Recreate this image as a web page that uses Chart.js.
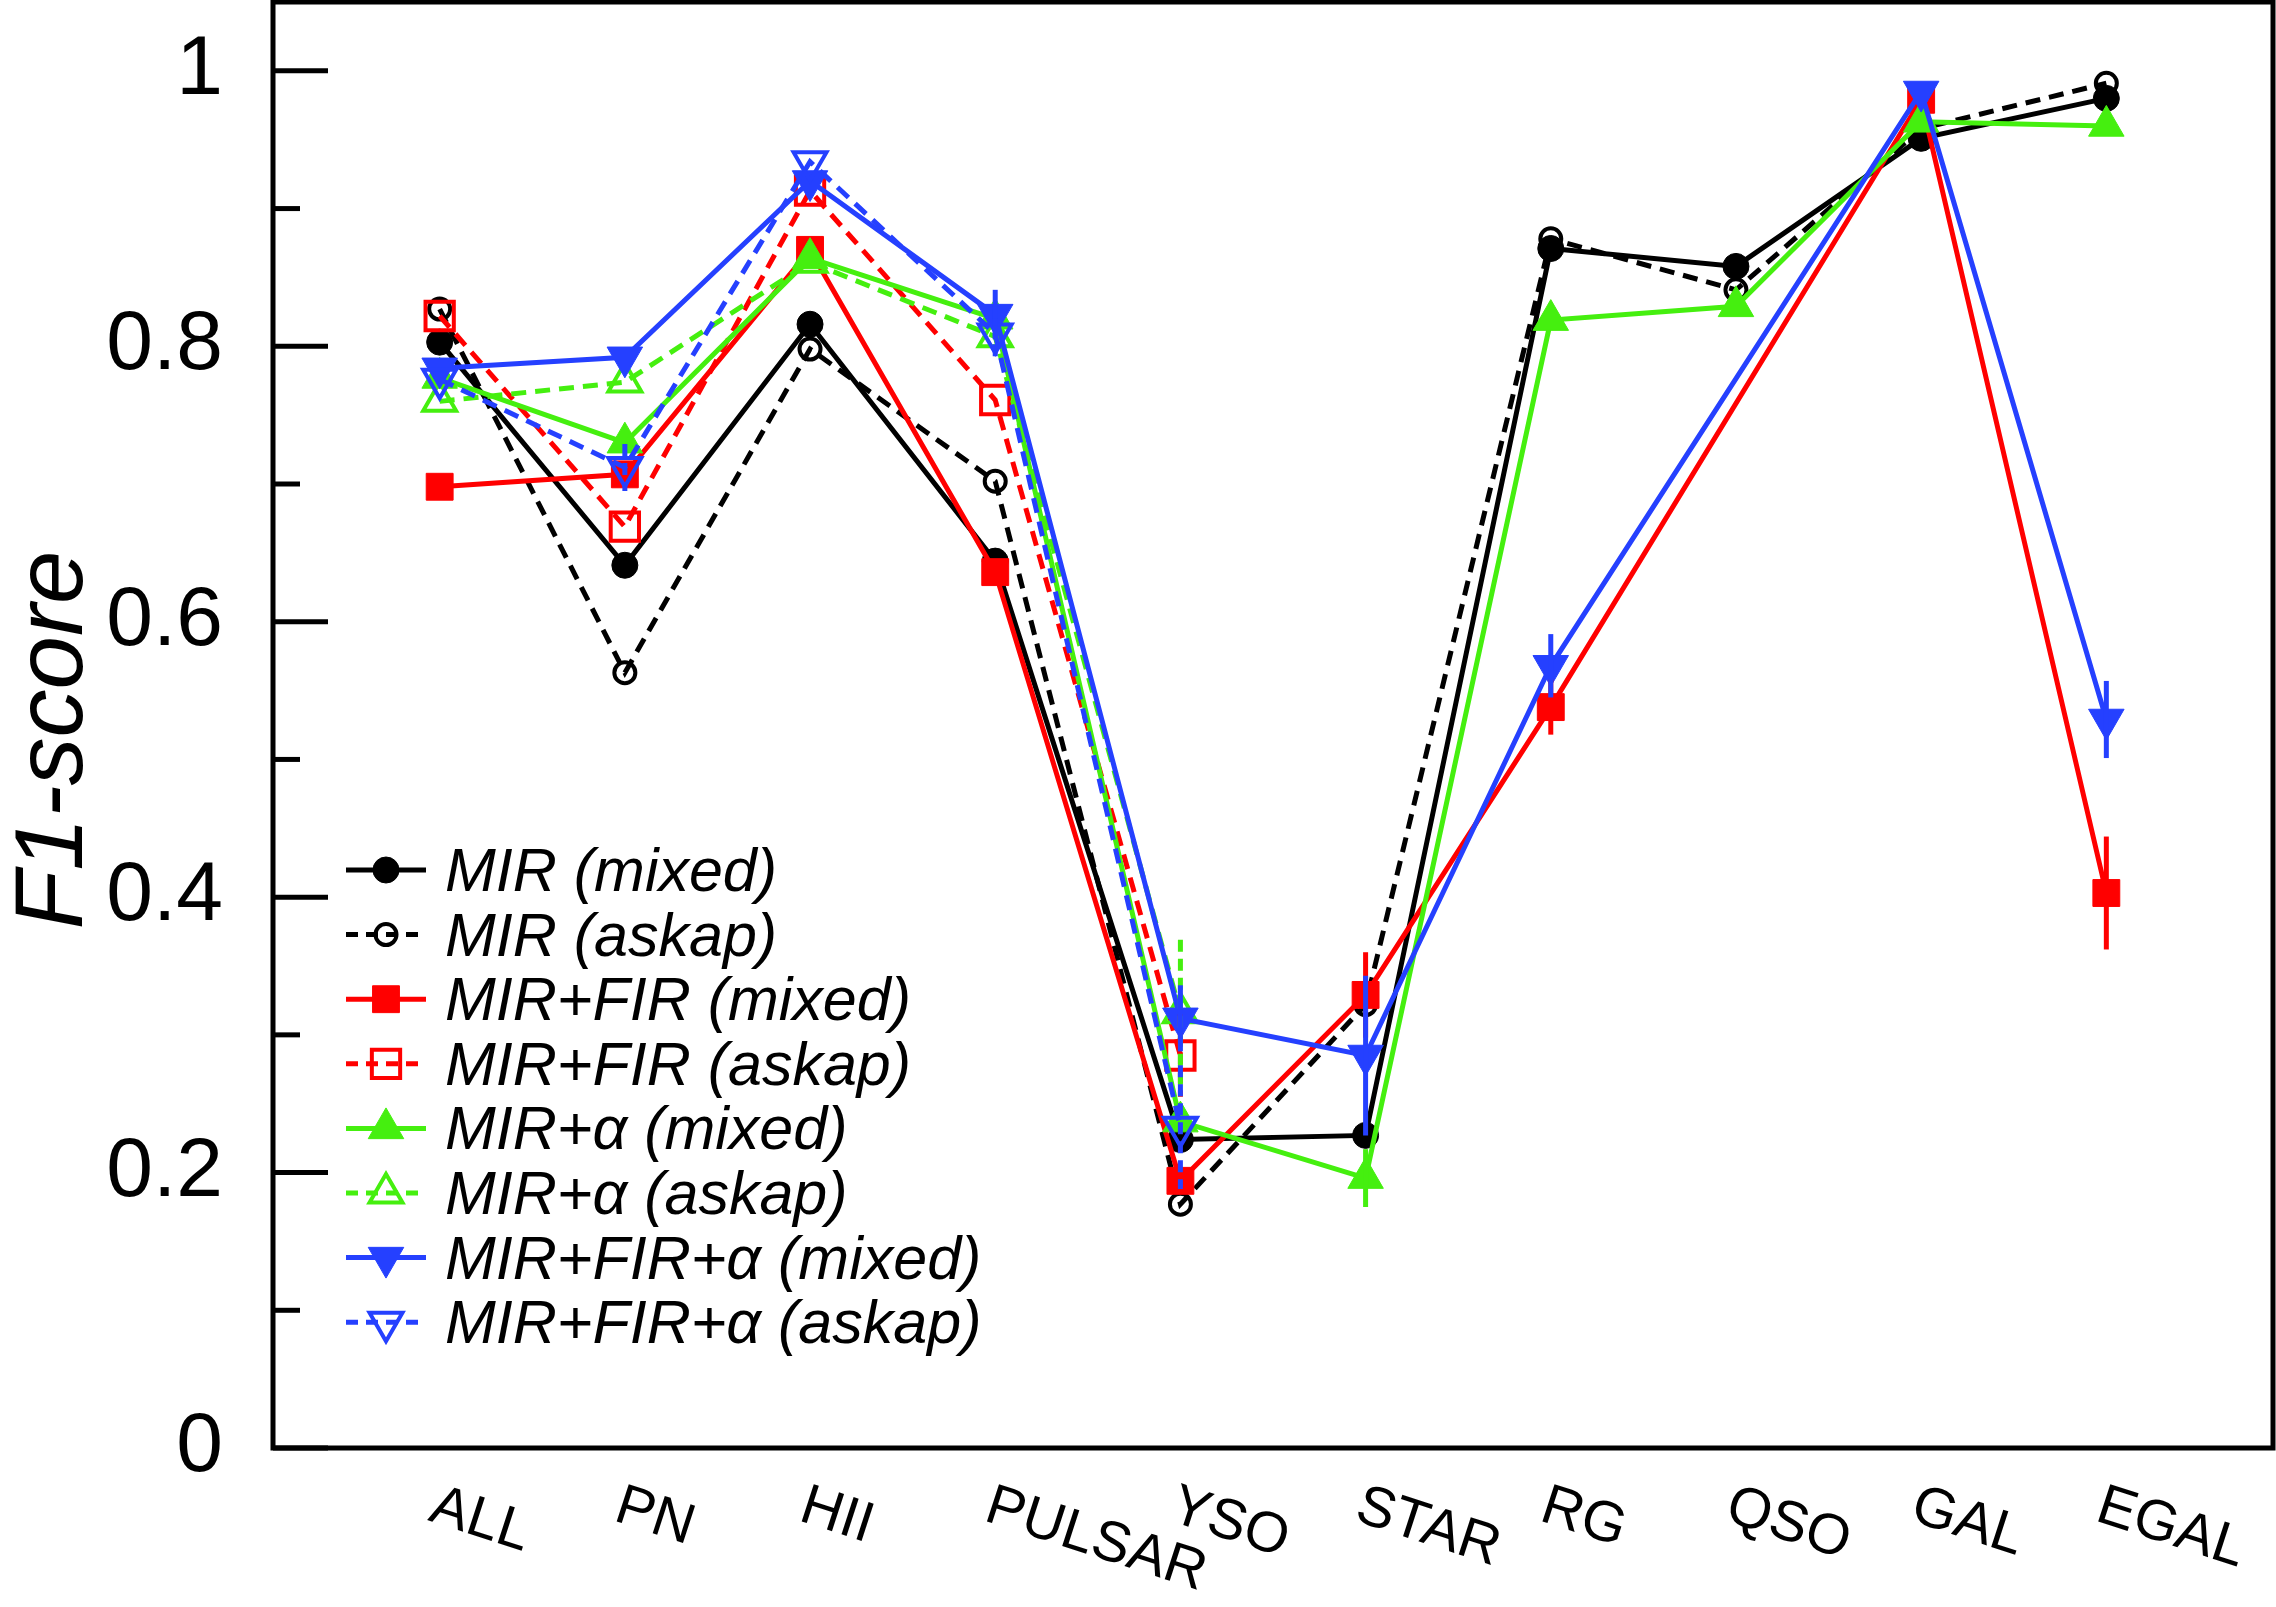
<!DOCTYPE html>
<html>
<head>
<meta charset="utf-8">
<title>F1-score</title>
<script src="https://cdn.jsdelivr.net/npm/chart.js@4.4.1/dist/chart.umd.min.js"></script>
<style>
  html, body { margin: 0; padding: 0; background: #fff; }
  #wrap { width: 2276px; height: 1607px; position: relative; }
</style>
</head>
<body>
<div id="wrap"><canvas id="f1Chart"></canvas></div>
<script>
// categories on the x axis
const categories = ['ALL', 'PN', 'HII', 'PULSAR', 'YSO', 'STAR', 'RG', 'QSO', 'GAL', 'EGAL'];

// F1 scores (null = no point)
const mirMixed      = [0.803, 0.641, 0.816, 0.644, 0.224, 0.227, 0.871, 0.858, 0.951, 0.980];
const mirAskap      = [0.827, 0.563, 0.798, 0.702, 0.177, 0.322, 0.878, 0.841, 0.958, 0.991];
const firMixed      = [0.698, 0.707, 0.870, 0.636, 0.194, 0.329, 0.538, null, 0.979, 0.403];
const firAskap      = [0.822, 0.669, 0.913, 0.761, 0.285];
const alphaMixed    = [0.777, 0.730, 0.864, 0.820, 0.237, 0.196, 0.819, 0.829, 0.963, 0.960];
const alphaAskap    = [0.760, 0.774, 0.861, 0.807, 0.316];
const firAlphaMixed = [0.784, 0.792, 0.920, 0.823, 0.312, 0.285, 0.568, null, 0.985, 0.529];
const firAlphaAskap = [0.776, 0.712, 0.934, 0.809, 0.233];

// error bar half-lengths
const mirMixedErr      = [0, 0, 0, 0, 0, 0, 0, 0, 0, 0];
const mirAskapErr      = [0, 0, 0, 0, 0, 0, 0, 0, 0, 0];
const firMixedErr      = [0, 0, 0, 0, 0, 0.031, 0.02, 0, 0, 0.041];
const firAskapErr      = [0, 0, 0, 0, 0.03];
const alphaMixedErr    = [0, 0, 0, 0, 0, 0.021, 0, 0, 0, 0];
const alphaAskapErr    = [0, 0, 0, 0, 0.053];
const firAlphaMixedErr = [0, 0, 0, 0.018, 0.024, 0.058, 0.023, 0, 0, 0.028];
const firAlphaAskapErr = [0, 0.017, 0, 0.02, 0.045];

// y axis ticks
const yMajorTicks = [0, 0.2, 0.4, 0.6, 0.8, 1];
const yTickLabels = ['0', '0.2', '0.4', '0.6', '0.8', '1'];
const yMinorTicks = [0.1, 0.3, 0.5, 0.7, 0.9];

const BLACK = '#000000';
const RED = '#ff0000';
const GREEN = '#45ef0f';
const BLUE = '#2540ff';
const DASH = [15, 9];
const FONT = '"Liberation Sans", Arial, Helvetica, sans-serif';

const seriesDefs = [
    { label: 'MIR (mixed)',          data: mirMixed,      err: mirMixedErr,      color: BLACK, shape: 'circle',   filled: true,  dashed: false },
    { label: 'MIR (askap)',          data: mirAskap,      err: mirAskapErr,      color: BLACK, shape: 'circle',   filled: false, dashed: true },
    { label: 'MIR+FIR (mixed)',      data: firMixed,      err: firMixedErr,      color: RED,   shape: 'rect',     filled: true,  dashed: false },
    { label: 'MIR+FIR (askap)',      data: firAskap,      err: firAskapErr,      color: RED,   shape: 'rect',     filled: false, dashed: true },
    { label: 'MIR+α (mixed)',        data: alphaMixed,    err: alphaMixedErr,    color: GREEN, shape: 'triUp',    filled: true,  dashed: false },
    { label: 'MIR+α (askap)',        data: alphaAskap,    err: alphaAskapErr,    color: GREEN, shape: 'triUp',    filled: false, dashed: true },
    { label: 'MIR+FIR+α (mixed)',    data: firAlphaMixed, err: firAlphaMixedErr, color: BLUE,  shape: 'triDown',  filled: true,  dashed: false },
    { label: 'MIR+FIR+α (askap)',    data: firAlphaAskap, err: firAlphaAskapErr, color: BLUE,  shape: 'triDown',  filled: false, dashed: true }
];

function markerOpts(s) {
    const o = { pointStyle: 'circle', radius: 13, rotation: 0 };
    if (s.shape === 'circle') o.radius = s.filled ? 13 : 10.5;
    if (s.shape === 'rect') { o.pointStyle = 'rect'; o.radius = s.filled ? 19 : 20; }
    if (s.shape === 'triUp') { o.pointStyle = 'triangle'; o.radius = s.filled ? 20.5 : 19; }
    if (s.shape === 'triDown') { o.pointStyle = 'triangle'; o.radius = s.filled ? 20.5 : 19; o.rotation = 180; }
    return o;
}

const datasets = seriesDefs.map((s, idx) => {
    const m = markerOpts(s);
    return {
        label: s.label,
        data: s.data.map((v, i) => ({ x: i, y: v })),
        errors: s.err,
        dashed: s.dashed,
        shape: s.shape,
        filled: s.filled,
        borderColor: s.color,
        backgroundColor: s.color,
        borderWidth: 5,
        borderDash: s.dashed ? DASH : [],
        tension: 0,
        fill: false,
        spanGaps: true,
        pointStyle: m.pointStyle,
        pointRadius: m.radius,
        pointRotation: m.rotation,
        pointBackgroundColor: s.filled ? s.color : 'rgba(0,0,0,0)',
        pointBorderColor: s.color,
        pointBorderWidth: s.filled ? 1 : 4,
        order: 8 - idx
    };
});

// own marker drawing for the legend (same geometry as Chart.js)
function drawMarker(ctx, ds, x, y) {
    const r = ds.pointRadius;
    ctx.save();
    ctx.setLineDash([]);
    ctx.lineWidth = ds.pointBorderWidth;
    ctx.strokeStyle = ds.pointBorderColor;
    ctx.fillStyle = ds.pointBackgroundColor;
    ctx.beginPath();
    if (ds.shape === 'circle') {
        ctx.arc(x, y, r, 0, Math.PI * 2);
    } else if (ds.shape === 'rect') {
        const h = r * Math.SQRT1_2;
        ctx.rect(x - h, y - h, 2 * h, 2 * h);
    } else {
        let a = ds.shape === 'triDown' ? Math.PI : 0;
        ctx.moveTo(x + Math.sin(a) * r, y - Math.cos(a) * r);
        a += 2 * Math.PI / 3;
        ctx.lineTo(x + Math.sin(a) * r, y - Math.cos(a) * r);
        a += 2 * Math.PI / 3;
        ctx.lineTo(x + Math.sin(a) * r, y - Math.cos(a) * r);
        ctx.closePath();
    }
    ctx.fill();
    ctx.stroke();
    ctx.restore();
}

const decorations = {
    id: 'decorations',
    afterDatasetsDraw(chart) {
        const ctx = chart.ctx;
        const xs = chart.scales.x, ys = chart.scales.y;
        // error bars
        chart.data.datasets.forEach(ds => {
            ctx.save();
            ctx.strokeStyle = ds.borderColor;
            ctx.lineWidth = 5;
            ctx.setLineDash(ds.dashed ? [12, 7] : []);
            ds.data.forEach((p, i) => {
                const e = ds.errors[i];
                if (p.y === null || !e) return;
                const px = xs.getPixelForValue(p.x);
                ctx.beginPath();
                ctx.moveTo(px, ys.getPixelForValue(p.y + e));
                ctx.lineTo(px, ys.getPixelForValue(p.y - e));
                ctx.stroke();
            });
            ctx.restore();
        });
    },
    afterDraw(chart) {
        const ctx = chart.ctx;
        const area = chart.chartArea;
        const xs = chart.scales.x, ys = chart.scales.y;
        ctx.save();

        // frame
        ctx.strokeStyle = '#000';
        ctx.lineWidth = 5;
        ctx.strokeRect(area.left, area.top, area.right - area.left, area.bottom - area.top);

        // inward y ticks
        ctx.lineWidth = 5;
        yMajorTicks.forEach(v => {
            const py = ys.getPixelForValue(v);
            ctx.beginPath(); ctx.moveTo(area.left, py); ctx.lineTo(area.left + 55, py); ctx.stroke();
        });
        yMinorTicks.forEach(v => {
            const py = ys.getPixelForValue(v);
            ctx.beginPath(); ctx.moveTo(area.left, py); ctx.lineTo(area.left + 27, py); ctx.stroke();
        });

        // rotated category labels
        ctx.fillStyle = '#000';
        ctx.font = '57px ' + FONT;
        ctx.textAlign = 'left';
        ctx.textBaseline = 'top';
        categories.forEach((c, i) => {
            const px = xs.getPixelForValue(i);
            ctx.save();
            ctx.translate(px + 1, area.bottom + 30);
            ctx.rotate(18 * Math.PI / 180);
            ctx.fillText(c, 0, 0);
            ctx.restore();
        });

        // y axis title
        ctx.save();
        ctx.translate(55, 740);
        ctx.rotate(-Math.PI / 2);
        ctx.font = 'italic 96px ' + FONT;
        ctx.textAlign = 'center';
        ctx.textBaseline = 'middle';
        ctx.fillText('F1-score', 0, 0);
        ctx.restore();

        // legend
        const lx0 = 346, lx1 = 426, mx = 386, tx = 445, ly0 = 870, step = 64.6;
        ctx.font = 'italic 61px ' + FONT;
        ctx.textAlign = 'left';
        ctx.textBaseline = 'alphabetic';
        chart.data.datasets.forEach((ds, i) => {
            const y = ly0 + i * step;
            ctx.save();
            ctx.strokeStyle = ds.borderColor;
            ctx.lineWidth = 5;
            ctx.setLineDash(ds.dashed ? [12, 8] : []);
            ctx.beginPath(); ctx.moveTo(lx0, y); ctx.lineTo(lx1, y); ctx.stroke();
            ctx.restore();
            drawMarker(ctx, ds, mx, y);
            ctx.fillStyle = '#000';
            ctx.fillText(ds.label, tx, y + 21);
        });

        ctx.restore();
    }
};

document.addEventListener('DOMContentLoaded', () => {
    const el = document.getElementById('f1Chart');
    new Chart(el, {
        type: 'line',
        data: { datasets: datasets },
        options: {
            responsive: true,
            maintainAspectRatio: false,
            animation: false,
            layout: { autoPadding: false, padding: { top: 2, right: 3, bottom: 159, left: 0 } },
            plugins: {
                legend: { display: false },
                tooltip: { enabled: false }
            },
            scales: {
                x: {
                    type: 'linear',
                    min: -0.9,
                    max: 9.9,
                    display: false
                },
                y: {
                    min: 0,
                    max: 1.05,
                    afterFit: scale => {
                        scale.width = 273;
                        scale.paddingTop = 0;
                        scale.paddingBottom = 0;
                    },
                    afterBuildTicks: scale => { scale.ticks = yMajorTicks.map(v => ({ value: v })); },
                    grid: { display: false },
                    border: { display: false },
                    ticks: {
                        padding: 42,
                        color: '#000',
                        font: { family: FONT, size: 84 },
                        callback: (v, i) => yTickLabels[i]
                    }
                }
            }
        },
        plugins: [decorations]
    });
});
</script>
</body>
</html>
